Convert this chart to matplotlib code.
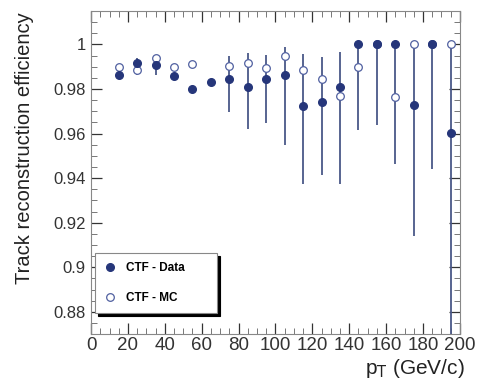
import numpy as np
import matplotlib
matplotlib.use("Agg")
import matplotlib.pyplot as plt
from matplotlib.ticker import MultipleLocator

plt.rcParams['font.family'] = ['Liberation Sans', 'DejaVu Sans']

# pT bin centres (GeV/c)
pt = [15, 25, 35, 45, 55, 65, 75, 85, 95, 105, 115, 125, 135, 145, 155, 165, 175, 185, 195]
# CTF - Data efficiency with lower / upper bounds of the error bars
eff_data = [0.9865, 0.9916, 0.9910, 0.9858, 0.9801, 0.9830, 0.9846, 0.9808, 0.9846, 0.9862,
            0.9724, 0.9741, 0.9808, 1.0, 1.0, 1.0, 0.9729, 1.0, 0.9601]
data_lo = [0.9845, 0.9862, 0.9862, 0.9850, 0.9795, 0.9822, 0.9696, 0.9619, 0.9649, 0.9551,
           0.9373, 0.9415, 0.9373, 0.9615, 0.9640, 0.9462, 0.9141, 0.9441, 0.8600]
data_hi = [0.9885, 0.9940, 0.9944, 0.9866, 0.9807, 0.9838, 0.9948, 0.9963, 0.9954, 0.9988,
           0.9959, 0.9945, 0.9966, 1.0, 1.0, 1.0, 1.0, 1.0, 1.0]
# CTF - MC efficiency
eff_mc = [0.9899, 0.9884, 0.9939, 0.9900, 0.9913, np.nan, 0.9904, 0.9919, 0.9895, 0.9948,
          0.9886, 0.9844, 0.9770, 0.9898, 1.0, 0.9764, 1.0, 1.0, 1.0]

dark = '#26367a'
bar_col = '#4a5888'

fig = plt.figure(figsize=(4.82, 3.81), dpi=100)
ax = fig.add_axes([0.189, 0.123, 0.765, 0.848])

y = np.array(eff_data)
yerr = [y - np.array(data_lo), np.array(data_hi) - y]
ax.errorbar(pt, eff_data, yerr=yerr, fmt='none', ecolor=bar_col, elinewidth=1.3, capsize=0)
ax.plot(pt, eff_mc, 'o', mfc='white', mec='#5060a0', ms=5.5, mew=0.9, ls='none', label='CTF - MC')
ax.plot(pt, eff_data, 'o', color=dark, ms=5.5, ls='none', label='CTF - Data')

ax.set_xlim(0, 200)
ax.set_ylim(0.87, 1.015)
ax.xaxis.set_major_locator(MultipleLocator(20))
ax.xaxis.set_minor_locator(MultipleLocator(5))
ax.yaxis.set_minor_locator(MultipleLocator(0.005))
ax.set_yticks([0.88, 0.9, 0.92, 0.94, 0.96, 0.98, 1.0])
ax.set_yticklabels(['0.88', '0.9', '0.92', '0.94', '0.96', '0.98', '1'])

ax.tick_params(which='both', direction='in', top=True, right=True, color='#777777')
ax.tick_params(which='major', length=8, width=0.9)
ax.tick_params(which='minor', length=4, width=0.7)
ax.tick_params(axis='x', labelsize=13.5, pad=2, colors='#333333')
ax.tick_params(axis='y', labelsize=12, pad=4, colors='#333333')
for s in ax.spines.values():
    s.set_color('#888888')

ax.set_ylabel('Track reconstruction efficiency', fontsize=14.5, color='#222222')
ax.yaxis.set_label_coords(-0.155, 0.577)
fig.text(465 / 482, 1 - 374 / 381, r'p$_{\rm T}$ (GeV/c)', fontsize=15, color='#222222',
         ha='right', va='baseline')

h, l = ax.get_legend_handles_labels()
leg = ax.legend(h[::-1], l[::-1], loc='lower left', bbox_to_anchor=(0.011, 0.066, 0.33, 0.18),
                mode='expand', borderaxespad=0,
                prop={'weight': 'bold', 'size': 8.5}, labelspacing=1.5, handletextpad=0.9,
                handlelength=1.0, borderpad=0.75, fancybox=False, edgecolor='#888888',
                shadow={'color': 'black', 'alpha': 1.0}, framealpha=1)
leg.get_frame().set_linewidth(0.8)

fig.savefig('out.png', dpi=100)
